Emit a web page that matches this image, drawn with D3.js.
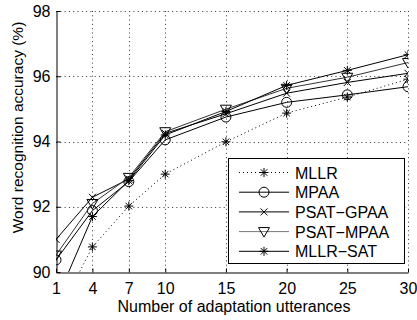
<!DOCTYPE html>
<html>
<head>
<meta charset="utf-8">
<script src="https://cdn.jsdelivr.net/npm/d3@7"></script>
<style>
body { margin: 0; background: #fff; }
svg { display: block; font-family: "Liberation Sans", Arial, sans-serif; }
</style>
</head>
<body>
<svg id="graph"></svg>
<script>
// adaptation utterances and accuracy per method
var utterances = [1, 4, 7, 10, 15, 20, 25, 30];
var mllr     = [88.6, 90.77, 92.02, 93.0, 93.99, 94.87, 95.36, 95.91];
var mpaa     = [90.37, 91.88, 92.77, 94.05, 94.75, 95.2, 95.43, 95.68];
var psatGpaa = [91.0, 92.29, 92.85, 94.25, 94.85, 95.48, 95.81, 96.09];
var psatMpaa = [90.52, 92.1, 92.9, 94.3, 94.99, 95.63, 95.97, 96.42];
var mllrSat  = [89.1, 91.7, 92.8, 94.2, 94.92, 95.72, 96.18, 96.66];
var seriesNames = ["MLLR", "MPAA", "PSAT\u2212GPAA", "PSAT\u2212MPAA", "MLLR\u2212SAT"];
var yTicks = [90, 92, 94, 96, 98];

var screen = {width: 417, height: 320};
var plot = {left: 56, right: 408, top: 11, bottom: 272};

var svg = d3.select("#graph")
    .attr("width", screen.width)
    .attr("height", screen.height);

var xScale = d3.scaleLinear().domain([1, 30]).range([plot.left, plot.right]);
var yScale = d3.scaleLinear().domain([90, 98]).range([plot.bottom, plot.top]);

svg.append("clipPath").attr("id", "clip")
    .append("rect")
    .attr("x", plot.left).attr("y", plot.top)
    .attr("width", plot.right - plot.left).attr("height", plot.bottom - plot.top);

// dotted grid
var grid = svg.append("g").attr("stroke", "#333").attr("stroke-width", 1)
    .attr("stroke-dasharray", "1,3.3");
utterances.slice(1).forEach(function (u) {
    grid.append("line")
        .attr("x1", Math.round(xScale(u)) + 0.5).attr("x2", Math.round(xScale(u)) + 0.5)
        .attr("y1", plot.top).attr("y2", plot.bottom);
});
yTicks.slice(1).forEach(function (t) {
    grid.append("line")
        .attr("y1", Math.round(yScale(t)) + 0.5).attr("y2", Math.round(yScale(t)) + 0.5)
        .attr("x1", plot.left).attr("x2", plot.right);
});

// axes
var xAxis = d3.axisBottom(xScale).tickValues(utterances).tickSizeInner(-4).tickSizeOuter(0).tickPadding(10);
var yAxis = d3.axisLeft(yScale).tickValues(yTicks).tickSizeInner(-4).tickSizeOuter(0).tickPadding(6);

var gx = svg.append("g").attr("transform", "translate(0," + (plot.bottom + 0.5) + ")").call(xAxis);
var gy = svg.append("g").attr("transform", "translate(" + (plot.left + 0.5) + ",0)").call(yAxis);
[gx, gy].forEach(function (g) {
    g.selectAll("path, line").attr("stroke", "#000");
    g.selectAll("text").attr("font-size", 16).attr("fill", "#000").attr("font-family", "Liberation Sans, Arial, sans-serif");
});

svg.append("text")
    .attr("x", (plot.left + plot.right) / 2 + 2).attr("y", 312)
    .attr("text-anchor", "middle").attr("font-size", 16)
    .text("Number of adaptation utterances");
svg.append("text")
    .attr("transform", "translate(23," + ((plot.top + plot.bottom) / 2 - 14) + ") rotate(-90)")
    .attr("text-anchor", "middle").attr("font-size", 15.5)
    .text("Word recognition accuracy (%)");

// markers
var star = function (g, s) {
    var a = s * 0.72;
    g.append("path").attr("d", "M0," + (-s) + "L0," + s + "M" + (-s) + ",0L" + s + ",0M" + (-a) + "," + (-a) + "L" + a + "," + a + "M" + (-a) + "," + a + "L" + a + "," + (-a))
        .attr("stroke", "#000").attr("fill", "none");
};
var markers = [
    function (g) { star(g, 4.5); },
    function (g) { g.append("circle").attr("r", 5).attr("fill", "none").attr("stroke", "#000"); },
    function (g) { g.append("path").attr("d", "M-3.5,-3.5L3.5,3.5M-3.5,3.5L3.5,-3.5").attr("stroke", "#000"); },
    function (g) { g.append("path").attr("d", "M-5.5,-4L5.5,-4L0,5.5Z").attr("fill", "none").attr("stroke", "#000"); },
    function (g) { star(g, 4.5); }
];
var allSeries = [mllr, mpaa, psatGpaa, psatMpaa, mllrSat];
var lineColors = ["#000", "#000", "#000", "#333", "#000"];
var dashes = ["1,3", null, null, null, null];

var line = d3.line()
    .x(function (d) { return xScale(d[0]); })
    .y(function (d) { return yScale(d[1]); });

var plotG = svg.append("g").attr("clip-path", "url(#clip)");
allSeries.forEach(function (vals, i) {
    var pts = utterances.map(function (u, j) { return [u, vals[j]]; });
    plotG.append("path").datum(pts)
        .attr("d", line).attr("fill", "none")
        .attr("stroke", lineColors[i]).attr("stroke-width", 1)
        .attr("stroke-dasharray", dashes[i]);
    pts.forEach(function (p) {
        if (p[1] < 90) return;
        var m = plotG.append("g").attr("transform", "translate(" + xScale(p[0]) + "," + yScale(p[1]) + ")");
        markers[i](m);
    });
});

// legend
var legend = {x: 228.5, y: 158.5, w: 176, h: 105};
svg.append("rect")
    .attr("x", legend.x).attr("y", legend.y).attr("width", legend.w).attr("height", legend.h)
    .attr("fill", "#fff").attr("stroke", "#000");
var legendColors = ["#000", "#000", "#000", "#777", "#000"];
seriesNames.forEach(function (name, i) {
    var cy = 172.5 + i * 19.7;
    svg.append("line")
        .attr("x1", 239).attr("x2", 289).attr("y1", cy).attr("y2", cy)
        .attr("stroke", legendColors[i]).attr("stroke-dasharray", dashes[i]);
    var m = svg.append("g").attr("transform", "translate(264," + cy + ")");
    markers[i](m);
    svg.append("text").attr("x", 295).attr("y", cy + 6)
        .attr("font-size", 16).text(name);
});
</script>
</body>
</html>
